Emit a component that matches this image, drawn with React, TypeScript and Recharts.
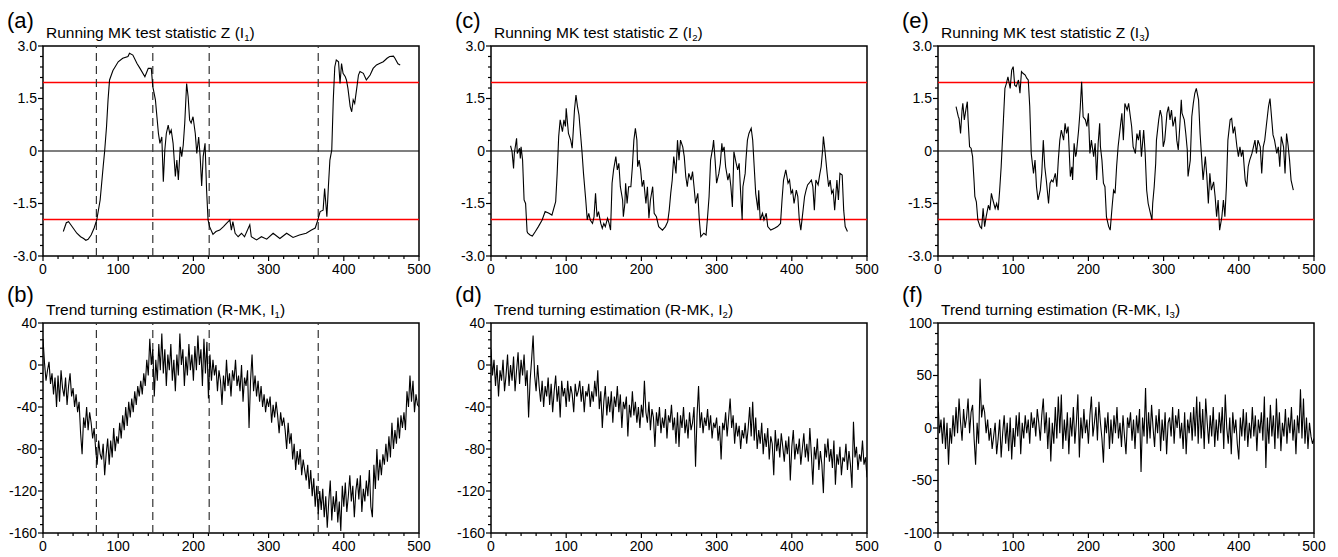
import React from 'react';
import { LineChart, Line, XAxis, YAxis, ReferenceLine, ReferenceArea } from 'recharts';

const FONT = '"Liberation Sans", Arial, Helvetica, sans-serif';

// axis ticks (major + minor)
const xTicks = [0, 20, 40, 60, 80, 100, 120, 140, 160, 180, 200, 220, 240, 260, 280, 300, 320, 340, 360, 380, 400, 420, 440, 460, 480, 500];
const zTicks = [-3, -2.7, -2.4, -2.1, -1.8, -1.5, -1.2, -0.9, -0.6, -0.3, 0, 0.3, 0.6, 0.9, 1.2, 1.5, 1.8, 2.1, 2.4, 2.7, 3];
const rTicks = [-160, -152, -144, -136, -128, -120, -112, -104, -96, -88, -80, -72, -64, -56, -48, -40, -32, -24, -16, -8, 0, 8, 16, 24, 32, 40];
const r3Ticks = [-100, -90, -80, -70, -60, -50, -40, -30, -20, -10, 0, 10, 20, 30, 40, 50, 60, 70, 80, 90, 100];

// significance level and turning points found for I1
const sigLevels = [1.96, -1.96];
const turningPoints = [71, 146, 221, 366];

// running MK statistic Z, [position, Z]
const zI1: [number, number][] = [
  [27, -2.3], [31, -2.05], [34, -2.02], [36, -2.08], [45, -2.35], [50, -2.45], [54, -2.5], [57, -2.55], [60, -2.52], [64, -2.4],
  [68, -2.2], [71.5, -1.97], [76, -1.4], [80, -0.45], [82, 0], [84.5, 0.7], [86.5, 1.46], [88.5, 2.03], [93, 2.3], [100, 2.55],
  [106, 2.65], [113, 2.7], [115, 2.79], [119.5, 2.74], [125, 2.5], [129, 2.36], [135.5, 2.12], [140, 2.36], [144, 2.36], [146, 1.84],
  [149.5, 1.46], [151.5, 0.98], [153.5, 0.5], [155.5, 0.22], [158, 0.4], [160, -0.88], [162, 0.03], [164, 0.5], [166.5, 0.74], [168.5, 0.5],
  [170.5, 0.6], [173, 0.22], [176, -0.73], [178, -0.26], [180, -0.83], [182.5, 0.12], [184.5, -0.16], [186.5, 0.17], [188.5, 0.8], [191, 1.93],
  [193, 1.55], [195, 0.88], [197, 0.8], [199.5, 0.98], [202.5, 0.5], [204.5, -0.07], [207, 0.4], [209, -0.16], [211, -1.0], [213, -0.16],
  [215.5, 0.22], [217.5, -1.1], [219.5, -1.97], [221.5, -2.16], [226, -2.38], [230, -2.3], [235, -2.26], [240, -2.16], [244, -2.07], [248.5, -1.97],
  [250.5, -2.26], [252.5, -2.02], [255.5, -2.35], [259.5, -2.45], [264, -2.35], [268, -2.45], [275, -2.11], [277, -2.45], [284, -2.54], [290.5, -2.45],
  [297.5, -2.52], [306, -2.35], [315, -2.5], [324, -2.35], [332.5, -2.47], [341, -2.4], [350, -2.35], [357, -2.26], [362, -2.2], [365.5, -1.97],
  [368.5, -1.73], [372.5, -1.69], [374.5, -1.07], [377.5, -1.88], [379.5, -1.02], [381.5, -0.26], [384, 0.03], [386, 1.46], [388, 2.4], [390, 2.6],
  [393, 2.55], [395, 1.93], [397, 2.5], [399, 2.22], [402, 2.12], [403.5, 2.03], [405.5, 1.79], [408.5, 1.27], [410.5, 1.12], [412.5, 1.46],
  [414.5, 1.36], [417.5, 1.84], [419.5, 2.17], [421.5, 2.27], [426, 2.22], [430, 2.03], [435, 2.17], [439, 2.36], [443.5, 2.46], [447.5, 2.5],
  [452.5, 2.55], [457.5, 2.65], [461, 2.7], [466, 2.71], [468, 2.65], [472, 2.49], [475, 2.46],
];

const zI2: [number, number][] = [
  [26, 0.15], [28, -0.02], [30, -0.5], [31, -0.07], [34, 0.36], [35, -0.07], [38, 0.08], [39, -0.21], [40, 0.12], [42, -0.26],
  [44, -1.4], [46, -1.5], [48, -2.3], [49, -2.35], [52, -2.4], [55, -2.43], [59, -2.3], [63, -2.16], [68, -1.97], [72, -1.73],
  [77, -1.78], [81, -1.83], [86, -1.45], [88, -0.64], [90, 0.41], [92, 0.89], [95, 0.55], [97, 0.89], [99, 0.7], [100, 1.22],
  [103, 0.5], [106, 0.31], [108, 0.08], [110, 0.79], [111, 1.17], [113, 1.6], [115, 1.27], [117, 1.03], [119, 0.5], [121, -0.02],
  [123, -0.64], [126, -1.4], [128, -1.97], [130, -1.78], [132, -1.97], [135, -2.07], [137, -1.88], [139, -1.21], [141, -1.88], [143, -1.73],
  [146, -2.07], [148, -2.21], [150, -2.07], [152, -2.16], [155, -1.92], [157, -2.07], [159, -2.26], [161, -0.92], [163, -0.54], [166, -0.16],
  [168, -0.54], [170, -0.35], [172, -1.02], [175, -1.4], [176, -1.88], [178, -1.5], [179, -0.92], [181, -1.5], [183, -1.02], [186, -1.02],
  [188, -0.45], [190, 0.31], [192, 0.65], [194, 0.31], [195, -0.45], [197, -0.26], [199, -0.54], [201, -1.02], [203, -0.83], [206, -1.5],
  [208, -1.02], [210, -1.92], [212, -1.4], [215, -1.02], [217, -1.78], [220, -1.88], [223, -2.16], [228, -2.26], [232, -2.16], [235, -2.02],
  [237, -1.69], [239, -1.21], [241, -0.83], [243, -0.16], [246, -0.64], [248, 0.31], [250, -0.26], [252, 0.31], [255, 0.12], [257, -0.16],
  [259, -0.73], [261, -1.02], [263, -0.64], [266, -0.83], [268, -0.59], [270, -1.02], [272, -1.5], [275, -1.21], [277, -1.97], [279, -2.45],
  [283, -2.35], [286, -2.4], [288, -1.88], [290, -1.3], [292, -0.26], [295, 0.12], [296, 0.31], [298, -0.26], [300, -0.92], [303, -0.64],
  [305, -0.35], [307, 0.22], [308, -0.02], [310, 0.12], [312, -0.45], [315, -0.83], [317, -0.64], [319, -1.02], [321, -1.6], [323, -0.02],
  [326, -0.35], [328, -0.54], [330, -0.35], [332, -1.21], [334, -1.97], [335, -1.02], [338, -0.64], [339, -0.26], [341, 0.31], [343, 0.5],
  [346, 0.65], [348, 0.31], [350, -0.45], [352, -1.21], [355, -1.69], [356, -1.12], [358, -1.97], [361, -1.78], [363, -1.97], [366, -1.78],
  [368, -2.16], [372, -2.26], [377, -2.21], [381, -2.16], [385, -2.07], [387, -1.4], [389, -0.83], [392, -0.54], [395, -0.92], [397, -0.83],
  [399, -1.21], [401, -1.12], [403, -1.5], [406, -1.12], [408, -1.3], [410, -1.97], [412, -2.26], [415, -1.69], [417, -1.3], [419, -1.12],
  [421, -0.97], [423, -0.92], [426, -0.83], [428, -1.02], [430, -1.69], [432, -0.83], [435, -0.97], [437, -0.69], [439, -0.45], [441, 0.03],
  [442, 0.41], [444, 0.03], [447, -0.64], [449, -1.02], [451, -0.83], [453, -1.21], [455, -1.12], [457, -1.69], [460, -0.83], [462, -1.4],
  [464, -0.64], [467, -0.69], [469, -1.69], [471, -2.16], [474, -2.3],
];

const zI3: [number, number][] = [
  [24, 1.27], [27, 0.98], [28, 0.93], [30, 0.5], [32, 1.17], [33, 1.36], [35, 0.89], [37, 1.17], [39, 1.41], [40, 0.89],
  [42, 0.12], [44, 0.08], [46, -0.16], [48, -0.88], [49, -1.3], [51, -1.45], [53, -1.97], [56, -2.16], [58, -2.21], [60, -1.64],
  [62, -2.16], [64, -1.88], [67, -1.55], [69, -1.69], [71, -1.21], [73, -1.4], [76, -1.64], [78, -1.5], [80, -1.69], [82, -1.12],
  [84, -0.45], [87, 0.89], [89, 1.79], [91, 1.93], [93, 2.12], [96, 1.79], [98, 2.31], [100, 2.41], [102, 1.88], [104, 1.84],
  [107, 2.03], [109, 1.65], [111, 2.27], [113, 2.22], [116, 2.17], [118, 2.08], [120, 2.03], [122, 1.27], [124, -0.07], [127, -0.64],
  [129, -0.26], [131, -1.02], [133, -1.4], [136, -1.12], [138, -0.64], [140, 0.31], [142, -0.45], [144, -0.83], [147, -1.5], [149, -0.92],
  [151, -0.83], [153, -0.88], [156, -0.64], [158, -1.02], [160, -0.26], [162, 0.31], [164, 0.6], [167, 0.31], [169, 0.79], [171, 0.5],
  [173, 0.7], [176, -0.73], [178, -0.45], [179, -0.83], [181, 0.22], [183, -0.16], [184, -0.07], [187, 0.6], [189, 1.17], [191, 1.98],
  [193, 0.98], [196, 0.89], [198, 0.7], [200, 1.08], [202, -0.07], [204, 0.31], [207, -0.16], [209, 0.22], [211, -0.83], [213, 0.22],
  [215, 0.79], [216, 0.12], [218, -0.26], [220, -0.92], [222, -1.02], [224, -1.88], [227, -2.16], [229, -2.26], [231.5, -1.6], [233.5, -1.12],
  [235.5, -1.21], [237.5, -0.45], [239.5, 0.12], [242.5, 0.7], [244.5, 1.08], [246.5, 0.31], [248.5, 1.36], [251.5, 1.17], [253.5, 1.36], [255.5, 1.03],
  [257.5, 0.7], [259.5, 0.12], [262.5, -0.07], [264.5, 0.5], [266.5, 0.31], [268.5, 0.6], [270.5, -0.16], [273.5, 0.6], [275.5, -0.07], [277.5, -1.12],
  [279.5, -1.5], [282.5, -1.78], [284.5, -1.97], [285.5, -1.5], [287.5, -1.02], [289.5, -0.35], [290.5, 0.31], [293.5, 0.89], [295.5, 1.17], [297.5, 0.98],
  [299.5, 0.12], [301.5, 0.31], [304.5, 1.08], [306.5, 1.27], [308.5, 0.89], [310.5, 1.17], [312.5, 0.7], [315.5, 0.98], [317.5, 0.31], [319.5, 0.03],
  [321.5, 0.7], [323.5, 1.46], [324.5, 1.08], [327.5, 0.89], [329.5, 0.5], [331.5, 0.03], [332.5, -0.73], [335.5, -0.26], [337.5, 0.98], [339.5, 1.36],
  [341.5, 1.65], [343.5, 1.79], [346.5, 1.46], [348.5, 0.5], [350.5, -0.16], [352.5, -0.83], [355.5, -0.16], [357.5, -0.73], [359.5, -1.5], [361.5, -0.64],
  [363.5, -1.12], [366.5, -0.88], [368.5, -1.3], [370.5, -1.88], [372.5, -1.4], [374.5, -2.26], [377.5, -1.88], [379.5, -1.4], [381.5, -1.88], [383.5, -1.02],
  [385.5, 0.31], [388.5, 0.89], [390.5, 0.93], [392.5, 0.5], [394.5, 0.7], [397.5, 0.12], [399.5, -0.16], [401.5, 0.12], [403.5, -0.16], [405.5, 0.03],
  [408.5, -0.83], [410.5, -1.02], [412.5, -0.45], [414.5, -0.26], [417.5, -0.07], [419.5, 0.12], [421.5, 0.31], [423.5, -0.07], [425.5, 0.31], [428.5, 0.12],
  [430.5, -0.64], [432.5, 0.12], [434.5, 0.31], [436.5, 0.7], [439.5, 1.27], [441.5, 1.5], [443.5, 0.98], [445.5, 0.46], [447.5, 0.31], [450.5, -0.07],
  [452.5, 0.12], [454.5, -0.45], [456.5, 0.41], [459.5, 0.12], [461.5, -0.64], [463.5, 0.5], [465.5, 0.17], [467.5, -0.26], [469.5, -0.83], [472.5, -1.12],
];

// R-MK trend series, one value every 2 steps from 0 to 500
const STEP = 2;
const rI1 = [
  25, 2, -15, -5, 3, -18, -8, -28, -12, -40, -10, -35, -5, -22, -30, -12, -38, -20, -8, -30,
  -22, -40, -28, -45, -35, -65, -85, -50, -60, -40, -62, -45, -55, -70, -60, -80, -95, -72, -85, -90,
  -75, -105, -85, -70, -95, -72, -88, -60, -82, -68, -75, -55, -70, -48, -62, -40, -58, -35, -50, -32,
  -45, -25, -38, -20, -30, -15, -28, -8, -20, 5, -10, 25, 0, 15, -30, 5, -15, 20, -5, 30,
  -8, 15, -20, 10, -5, 20, -15, 5, -25, 10, -10, 30, 0, 15, -20, 8, -10, 20, -5, 10,
  -15, 18, -5, 28, 0, 15, -20, 25, -8, 22, -32, 10, -15, 5, -10, 0, -25, -5, -15, -38,
  -10, -25, 5, -20, -8, -30, -5, -15, 5, -20, -10, -25, 0, -35, -12, -20, -5, -60, -15, 10,
  -25, -10, -30, -15, -35, -20, -40, -28, -45, -32, -40, -30, -55, -38, -50, -35, -48, -65, -45, -58,
  -50, -62, -80, -55, -75, -65, -90, -75, -100, -82, -95, -80, -105, -90, -100, -110, -95, -118, -100, -125,
  -108, -135, -115, -142, -120, -138, -118, -145, -125, -155, -130, -110, -148, -125, -140, -120, -150, -130, -158, -115,
  -135, -112, -140, -125, -105, -130, -115, -145, -120, -108, -128, -105, -140, -118, -130, -110, -125, -100, -135, -145,
  -95, -118, -80, -110, -90, -105, -85, -95, -75, -92, -68, -88, -55, -80, -62, -75, -50, -70, -48, -60,
  -45, -62, -25, -40, -10, -35, -15, -45, -28, -38, -40,
];
const rI2 = [
  15, -10, 5, -20, 0, -30, -5, -15, 5, -25, -10, 10, -20, 0, -15, 8, -25, -5, 12, -18,
  5, -10, 10, -20, -5, -50, -15, 5, 28, -10, -25, 0, -20, -35, -15, -40, -20, -30, -12, -38,
  -18, -45, -25, -10, -35, -20, -50, -15, -30, -22, -40, -15, -35, -20, -28, -45, -18, -30, -25, -15,
  -35, -20, -45, -25, -30, -18, -40, -25, -35, -15, -30, -5, -42, -25, -60, -35, -20, -48, -30, -45,
  -25, -55, -30, -40, -20, -45, -28, -60, -35, -42, -30, -68, -38, -50, -25, -48, -35, -55, -40, -60,
  -38, -50, -15, -45, -55, -35, -62, -42, -50, -78, -45, -58, -40, -65, -50, -60, -42, -70, -48, -55,
  -38, -62, -50, -75, -45, -78, -48, -60, -40, -65, -52, -70, -45, -62, -55, -40, -97, -48, -20, -60,
  -45, -65, -50, -58, -42, -62, -48, -70, -55, -60, -50, -72, -58, -90, -55, -62, -45, -68, -50, -32,
  -60, -48, -75, -55, -68, -58, -80, -62, -70, -55, -75, -60, -40, -68, -35, -72, -50, -80, -62, -75,
  -55, -85, -65, -78, -60, -90, -68, -75, -105, -62, -82, -70, -88, -65, -78, -92, -72, -85, -68, -110,
  -78, -62, -90, -75, -85, -70, -95, -80, -65, -88, -75, -92, -60, -85, -114, -78, -90, -70, -100, -82,
  -95, -122, -75, -88, -70, -92, -80, -98, -72, -114, -85, -95, -78, -105, -88, -92, -75, -100, -82, -95,
  -117, -54, -88, -78, -100, -85, -92, -72, -95, -88, -107,
];
const rI3 = [
  25, -5, 8, -15, 10, -20, 5, -35, 0, -15, 12, -8, 20, -5, 28, 5, -12, 18, 0, 10,
  28, -5, 15, 22, -10, -35, 5, -15, 47, 10, 22, 15, -5, 8, -12, 0, -20, -8, 5, -25,
  -10, 8, -28, -5, 12, -15, 5, -22, 10, -30, 0, -18, 12, -8, 15, -25, 5, -10, 12, -5,
  8, -15, 15, 0, 10, -8, 18, 5, -12, 12, 28, -5, 15, -20, 10, -32, 5, -15, 20, -10,
  30, -5, 32, -20, 8, -12, 15, -25, 10, -8, 20, -15, 5, 32, -28, 10, -10, 18, -5, 8,
  -15, 12, 30, -8, 5, 20, -12, 25, 5, -10, -33, 10, -5, 15, -20, 8, -15, 12, -5, 20,
  -10, 5, -18, 12, -8, -25, 10, 0, 15, -12, 8, -20, 12, -5, 18, -42, 10, -8, 38, -15,
  15, -10, 22, 0, -18, 12, -5, 18, -22, 8, -12, 15, -25, 5, 10, -8, 20, -15, 12, 0,
  18, -10, 5, -20, 15, -25, 8, -5, 15, -12, 20, -8, 30, -15, 25, -10, 18, -20, 28, 5,
  -15, 12, -8, 20, -18, 8, -12, 15, -5, 20, -20, 32, 0, -15, 10, -25, 15, -5, 8, -15,
  -30, 10, -8, 18, -12, 15, -18, 5, -10, 20, -8, 12, -22, 8, -5, 15, -12, 30, -38, 10,
  -15, 22, -8, 12, -20, 28, -10, 15, -22, 5, -8, 18, -15, 10, -5, 20, -12, 8, -25, 12,
  -5, 37, -10, 28, -15, 10, -20, 5, -8, -15, -10,
];

const toPairs = (pts: [number, number][]) => pts.map(([x, y]) => ({ x, y }));
const toSeries = (vals: number[]) => vals.map((y, i) => ({ x: i * STEP, y }));

const PLOT_W = 376;
const YW = 40;
const XH = 28;
const M_TOP = 10;
const M_RIGHT = 12;
const colLeft = [43, 491, 938];
const rowTop = [46, 323];
const rowH = [210, 210];
const labelOff = [17, 20];
const titleOff = [8, 8];

const isMajor = (v: number, step: number) => Math.abs(v / step - Math.round(v / step)) < 1e-6;

const makeXTick = () => (props: any) => {
  const { x, y, payload } = props;
  const major = isMajor(payload.value, 100);
  return (
    <g>
      <line x1={x} x2={x} y1={y} y2={y + (major ? 5 : 3)} stroke="#000" strokeWidth={1.2} />
      {major && (
        <text x={x} y={y + 8} dy="0.71em" textAnchor="middle" fontSize={14} fontFamily={FONT} fill="#000">
          {payload.value}
        </text>
      )}
    </g>
  );
};

const makeYTick = (step: number, fmt: (v: number) => string) => (props: any) => {
  const { x, y, payload } = props;
  const major = isMajor(payload.value, step);
  return (
    <g>
      <line x1={x} x2={x - (major ? 5 : 3)} y1={y} y2={y} stroke="#000" strokeWidth={1.2} />
      {major && (
        <text x={x - 6} y={y} dy="0.35em" textAnchor="end" fontSize={14} fontFamily={FONT} fill="#000">
          {fmt(payload.value)}
        </text>
      )}
    </g>
  );
};

type PanelProps = {
  col: number;
  row: number;
  label: string;
  title: string;
  sub: string;
  data: { x: number; y: number }[];
  domain: [number, number];
  yTicks: number[];
  majorStep: number;
  fmt: (v: number) => string;
  isZ?: boolean;
  marks?: number[];
};

const Panel = ({ col, row, label, title, sub, data, domain, yTicks, majorStep, fmt, isZ, marks }: PanelProps) => {
  const left = colLeft[col];
  const top = rowTop[row];
  const h = rowH[row];
  return (
    <>
      <div style={{ position: 'absolute', left: left - 36, top: top - labelOff[row] - 18.6, fontSize: 22, lineHeight: 1, fontFamily: FONT, whiteSpace: 'nowrap' }}>
        {label}
      </div>
      <div style={{ position: 'absolute', left: left + 3, top: top - titleOff[row] - 13.1, fontSize: 15.5, lineHeight: 1, fontFamily: FONT, whiteSpace: 'nowrap' }}>
        {title}
        <span style={{ fontSize: '0.62em', verticalAlign: '-0.3em' }}>{sub}</span>)
      </div>
      <div style={{ position: 'absolute', left: left - YW, top: top - M_TOP }}>
        <LineChart width={YW + PLOT_W + M_RIGHT} height={M_TOP + h + XH} data={data} margin={{ top: M_TOP, right: M_RIGHT, bottom: 0, left: 0 }}>
          <XAxis
            type="number"
            dataKey="x"
            domain={[0, 500]}
            ticks={xTicks}
            interval={0}
            allowDataOverflow
            height={XH}
            axisLine={false}
            tickLine={false}
            tickSize={0}
            tickMargin={0}
            tick={makeXTick()}
          />
          <YAxis
            type="number"
            domain={domain}
            ticks={yTicks}
            interval={0}
            allowDataOverflow
            width={YW}
            axisLine={false}
            tickLine={false}
            tickSize={0}
            tickMargin={0}
            tick={makeYTick(majorStep, fmt)}
          />
          {isZ && <ReferenceLine y={0} stroke="#000" strokeWidth={1.2} />}
          {isZ && sigLevels.map((s) => <ReferenceLine key={s} y={s} stroke="#ff0000" strokeWidth={1.5} />)}
          {marks &&
            marks.map((m) => <ReferenceLine key={m} x={m} stroke="#333" strokeWidth={1.2} strokeDasharray="8 5" />)}
          <Line type="linear" dataKey="y" stroke="#000" strokeWidth={1.1} dot={false} isAnimationActive={false} />
          <ReferenceArea x1={0} x2={500} y1={domain[0]} y2={domain[1]} fill="none" fillOpacity={0} stroke="#000" strokeWidth={1.5} />
        </LineChart>
      </div>
    </>
  );
};

const fmtZ = (v: number) => (v === 0 ? '0' : v.toFixed(1));
const fmtR = (v: number) => String(v);

export default function App() {
  return (
    <div style={{ position: 'absolute', left: 0, top: 0, width: 1338, height: 557, background: '#fff', overflow: 'hidden' }}>
      <Panel col={0} row={0} label="(a)" title="Running MK test statistic Z (I" sub="1" data={toPairs(zI1)} domain={[-3, 3]} yTicks={zTicks} majorStep={1.5} fmt={fmtZ} isZ marks={turningPoints} />
      <Panel col={1} row={0} label="(c)" title="Running MK test statistic Z (I" sub="2" data={toPairs(zI2)} domain={[-3, 3]} yTicks={zTicks} majorStep={1.5} fmt={fmtZ} isZ />
      <Panel col={2} row={0} label="(e)" title="Running MK test statistic Z (I" sub="3" data={toPairs(zI3)} domain={[-3, 3]} yTicks={zTicks} majorStep={1.5} fmt={fmtZ} isZ />
      <Panel col={0} row={1} label="(b)" title="Trend turning estimation (R-MK, I" sub="1" data={toSeries(rI1)} domain={[-160, 40]} yTicks={rTicks} majorStep={40} fmt={fmtR} marks={turningPoints} />
      <Panel col={1} row={1} label="(d)" title="Trend turning estimation (R-MK, I" sub="2" data={toSeries(rI2)} domain={[-160, 40]} yTicks={rTicks} majorStep={40} fmt={fmtR} />
      <Panel col={2} row={1} label="(f)" title="Trend turning estimation (R-MK, I" sub="3" data={toSeries(rI3)} domain={[-100, 100]} yTicks={r3Ticks} majorStep={50} fmt={fmtR} />
    </div>
  );
}
